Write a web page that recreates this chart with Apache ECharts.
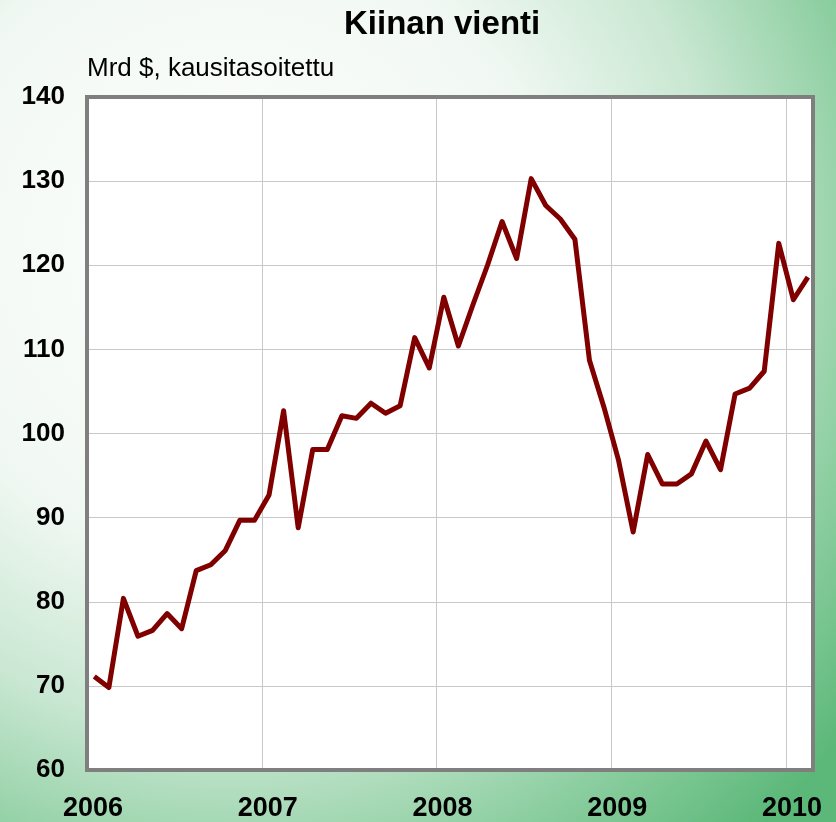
<!DOCTYPE html>
<html>
<head>
<meta charset="utf-8">
<script src="https://cdn.jsdelivr.net/npm/echarts@6/dist/echarts.min.js"></script>
<style>
  html, body { margin: 0; padding: 0; }
  #chart { width: 836px; height: 822px; }
</style>
</head>
<body>
<div id="chart"></div>
<script>
// kuukaudet 2006-01 ... 2010-02
const months = [
  '2006-01','2006-02','2006-03','2006-04','2006-05','2006-06','2006-07','2006-08','2006-09','2006-10','2006-11','2006-12',
  '2007-01','2007-02','2007-03','2007-04','2007-05','2007-06','2007-07','2007-08','2007-09','2007-10','2007-11','2007-12',
  '2008-01','2008-02','2008-03','2008-04','2008-05','2008-06','2008-07','2008-08','2008-09','2008-10','2008-11','2008-12',
  '2009-01','2009-02','2009-03','2009-04','2009-05','2009-06','2009-07','2009-08','2009-09','2009-10','2009-11','2009-12',
  '2010-01','2010-02'
];
// vienti, mrd $, kausitasoitettu
const exportsBn = [
  71.1, 69.8, 80.4, 75.9, 76.6, 78.6, 76.8, 83.7, 84.4, 86.1, 89.7, 89.7,
  92.7, 102.7, 88.8, 98.1, 98.1, 102.1, 101.8, 103.6, 102.4, 103.3, 111.4, 107.8,
  116.2, 110.4, 115.3, 120.0, 125.2, 120.8, 130.3, 127.1, 125.5, 123.1, 108.7, 103.1,
  96.8, 88.3, 97.5, 94.0, 94.0, 95.2, 99.1, 95.7, 104.7, 105.4, 107.4, 122.6,
  115.9, 118.6
];
const yearLabels = ['2006', '2007', '2008', '2009', '2010'];

const chart = echarts.init(document.getElementById('chart'));

// piste kuukauden keskelle
const lineData = months.map((m, i) => [i + 0.5, exportsBn[i]]);

const option = {
  backgroundColor: {
    type: 'radial',
    x: 0.28,
    y: 0.3,
    r: 0.95,
    colorStops: [
      { offset: 0, color: '#ffffff' },
      { offset: 0.4, color: '#f1f8f3' },
      { offset: 0.62, color: '#c9e7d2' },
      { offset: 0.82, color: '#8ccea0' },
      { offset: 1, color: '#5cb879' }
    ]
  },
  graphic: [
    {
      type: 'text',
      left: 344,
      top: 8,
      style: {
        text: 'Kiinan vienti',
        font: 'bold 33px "Liberation Sans", Arial, sans-serif',
        fill: '#000'
      }
    },
    {
      type: 'text',
      left: 87,
      top: 56,
      style: {
        text: 'Mrd $, kausitasoitettu',
        font: '26px "Liberation Sans", Arial, sans-serif',
        fill: '#000'
      }
    },
    {
      // kuvaajan kehys
      type: 'rect',
      z: 10,
      shape: { x: 87, y: 97, width: 726, height: 673 },
      style: { fill: 'none', stroke: '#7f7f7f', lineWidth: 4 }
    }
  ],
  grid: {
    left: 87,
    right: 23,
    top: 97,
    bottom: 52,
    show: true,
    backgroundColor: '#ffffff',
    borderWidth: 0
  },
  xAxis: {
    type: 'value',
    min: 0,
    max: 49.85,
    interval: 12,
    axisLine: { show: false },
    axisTick: { show: false },
    splitLine: { show: true, lineStyle: { color: '#c8c8c8', width: 1 } },
    axisLabel: {
      showMaxLabel: false,
      margin: 25,
      padding: [0, 0, 0, 12],
      color: '#000',
      fontFamily: '"Liberation Sans", Arial, sans-serif',
      fontWeight: 'bold',
      fontSize: 27,
      formatter: (v) => (v % 12 === 0 ? yearLabels[v / 12] : '')
    }
  },
  yAxis: {
    type: 'value',
    min: 60,
    max: 140,
    interval: 10,
    axisLine: { show: false },
    axisTick: { show: false },
    splitLine: { show: true, lineStyle: { color: '#c8c8c8', width: 1 } },
    axisLabel: {
      margin: 22,
      color: '#000',
      fontFamily: '"Liberation Sans", Arial, sans-serif',
      fontWeight: 'bold',
      fontSize: 26
    }
  },
  series: [
    {
      type: 'line',
      data: lineData,
      showSymbol: false,
      symbol: 'none',
      lineStyle: { color: '#800000', width: 5, join: 'round' },
      animation: false
    }
  ]
};
chart.setOption(option);
</script>
</body>
</html>
